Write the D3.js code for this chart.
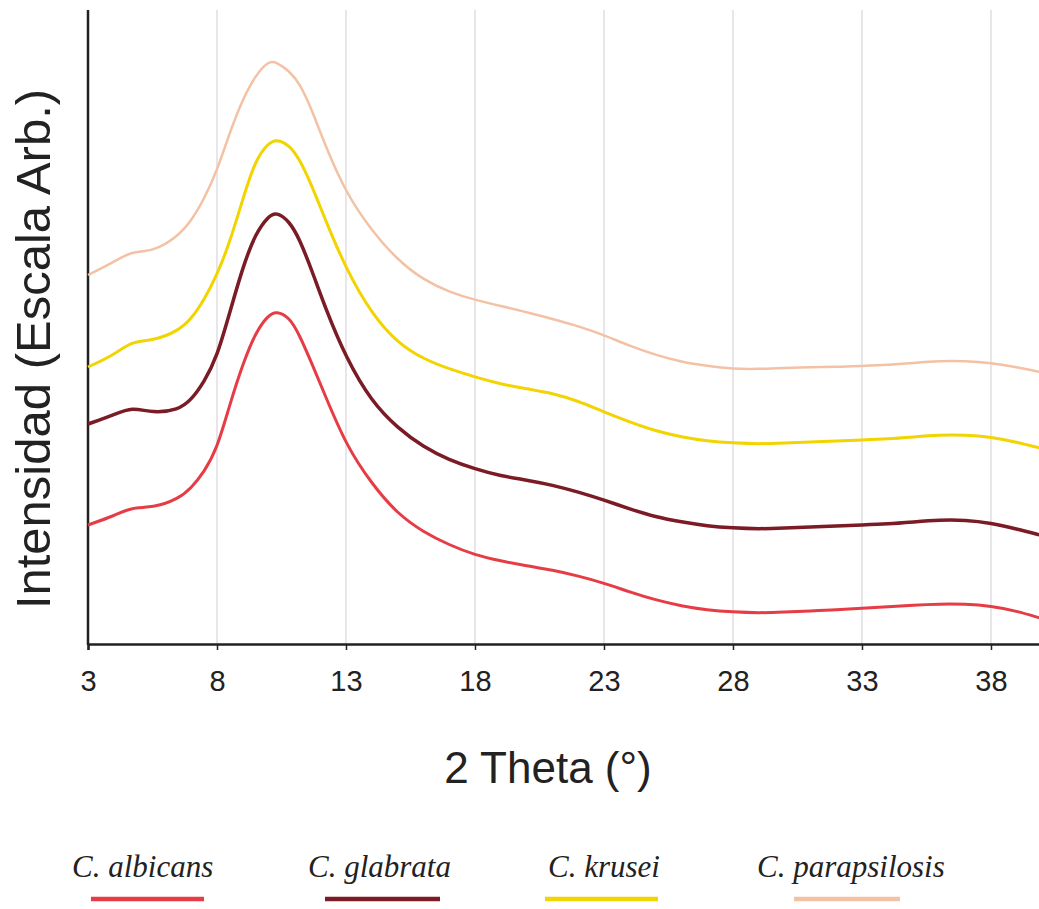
<!DOCTYPE html>
<html>
<head>
<meta charset="utf-8">
<script src="https://cdn.jsdelivr.net/npm/d3@7"></script>
<style>
  body { margin: 0; background: #fff; }
  svg { display: block; }
</style>
</head>
<body>
<script>
var theta = [3, 4, 4.7, 5.5, 6.5, 7, 7.5, 8, 8.5, 9, 9.5, 10, 10.3, 10.8, 11.2, 11.7, 12.2, 13,
  14, 15, 16, 17, 18, 19, 20, 21, 22, 23, 24, 25, 26, 27, 28, 29, 30, 31, 32, 33, 34, 35, 36, 37, 38, 39, 39.9];

// intensities (arbitrary units, curves already offset as in the figure)
var albicans = [119, 128, 137, 136, 145, 156, 172, 195, 240, 280, 312, 329, 333, 327, 309, 279, 248, 199,
  160, 130, 112, 99, 89, 83, 78, 74, 68, 61, 52, 44, 38, 34, 32, 31, 32, 33, 34, 36, 37, 39, 40, 40, 38, 33, 26];
var glabrata = [220, 229, 237, 231, 234, 244, 262, 287, 332, 377, 411, 428, 432, 423, 405, 372, 336, 286,
  242, 216, 197, 184, 175, 168, 164, 159, 152, 144, 135, 127, 122, 118, 116, 115, 116, 117, 118, 119, 120, 122, 124, 124, 121, 115, 109];
var krusei = [277, 289, 303, 303, 313, 325, 344, 369, 402, 445, 485, 501, 505, 499, 485, 457, 424, 375,
  330, 301, 285, 275, 267, 260, 255, 251, 243, 232, 222, 213, 207, 203, 201, 200, 201, 202, 203, 204, 205, 207, 209, 209, 207, 202, 196];
var parapsilosis = [369, 382, 393, 392, 408, 423, 445, 473, 512, 545, 569, 583, 582, 573, 561, 533, 498, 451,
  413, 384, 364, 352, 344, 338, 332, 325, 318, 309, 298, 289, 282, 278, 275, 275, 276, 277, 277, 278, 279, 281, 283, 283, 281, 277, 272];

var seriesNames = ["C. albicans", "C. glabrata", "C. krusei", "C. parapsilosis"];
var seriesValues = [albicans, glabrata, krusei, parapsilosis];
var xTicks = [3, 8, 13, 18, 23, 28, 33, 38];

var colors = ["#e63c46", "#7a1b25", "#f2d400", "#f3c2a4"];
var widths = [3, 3.5, 3, 2.5];

var W = 1039, H = 909;
var plotLeft = 88, plotRight = 1040, plotTop = 10, plotBottom = 644;

var svg = d3.select("body").append("svg")
  .attr("width", W)
  .attr("height", H)
  .style("background", "#fff");

var x = d3.scaleLinear().domain([3, 39.9]).range([plotLeft, plotRight]);
var y = d3.scaleLinear().domain([0, 634]).range([plotBottom, plotTop]);

// vertical grid
svg.append("g")
  .selectAll("line")
  .data(xTicks.slice(1))
  .enter()
  .append("line")
  .attr("x1", function (d) { return x(d); })
  .attr("x2", function (d) { return x(d); })
  .attr("y1", plotTop)
  .attr("y2", plotBottom)
  .attr("stroke", "#cfcfd3")
  .attr("stroke-width", 1);

// x axis
var xAxis = svg.append("g")
  .attr("transform", "translate(0," + plotBottom + ")")
  .call(d3.axisBottom(x).tickValues(xTicks).tickSize(6).tickPadding(20).tickFormat(d3.format("d")));
xAxis.select(".domain").attr("stroke", "#222").attr("stroke-width", 2.5);
xAxis.selectAll(".tick line").attr("stroke", "#222").attr("stroke-width", 1.5);
xAxis.selectAll(".tick text")
  .attr("fill", "#222")
  .style("font-family", "'Liberation Sans', Arial, sans-serif")
  .style("font-size", "29px");

// y axis line only
svg.append("line")
  .attr("x1", plotLeft).attr("x2", plotLeft)
  .attr("y1", plotTop).attr("y2", plotBottom + 1)
  .attr("stroke", "#222")
  .attr("stroke-width", 2.5);

// curves
var line = d3.line()
  .x(function (d) { return x(d[0]); })
  .y(function (d) { return y(d[1]); })
  .curve(d3.curveBasis);

svg.append("g")
  .selectAll("path")
  .data(seriesValues)
  .enter()
  .append("path")
  .attr("d", function (vals) { return line(theta.map(function (t, i) { return [t, vals[i]]; })); })
  .attr("fill", "none")
  .attr("stroke", function (d, i) { return colors[i]; })
  .attr("stroke-width", function (d, i) { return widths[i]; })
  .attr("stroke-linejoin", "round");

// axis titles
svg.append("text")
  .attr("x", 548)
  .attr("y", 783)
  .attr("text-anchor", "middle")
  .style("font-family", "'Liberation Sans', Arial, sans-serif")
  .style("font-size", "44px")
  .attr("fill", "#222")
  .text("2 Theta (°)");

svg.append("text")
  .attr("transform", "translate(50,349) rotate(-90)")
  .attr("text-anchor", "middle")
  .style("font-family", "'Liberation Sans', Arial, sans-serif")
  .style("font-size", "49px")
  .attr("fill", "#222")
  .text("Intensidad (Escala Arb.)");

// legend
var legendText = [72, 308, 548, 757];
var legendLine = [[91, 204], [325, 440], [545, 658], [794, 900]];

var lg = svg.append("g").selectAll("g")
  .data(seriesNames)
  .enter()
  .append("g");

lg.append("text")
  .attr("x", function (d, i) { return legendText[i]; })
  .attr("y", 877)
  .style("font-family", "'Liberation Serif', 'Times New Roman', serif")
  .style("font-style", "italic")
  .style("font-size", "31px")
  .attr("fill", "#222")
  .text(function (d) { return d; });

lg.append("line")
  .attr("x1", function (d, i) { return legendLine[i][0]; })
  .attr("x2", function (d, i) { return legendLine[i][1]; })
  .attr("y1", 899)
  .attr("y2", 899)
  .attr("stroke", function (d, i) { return colors[i]; })
  .attr("stroke-width", 4.5);
</script>
</body>
</html>
